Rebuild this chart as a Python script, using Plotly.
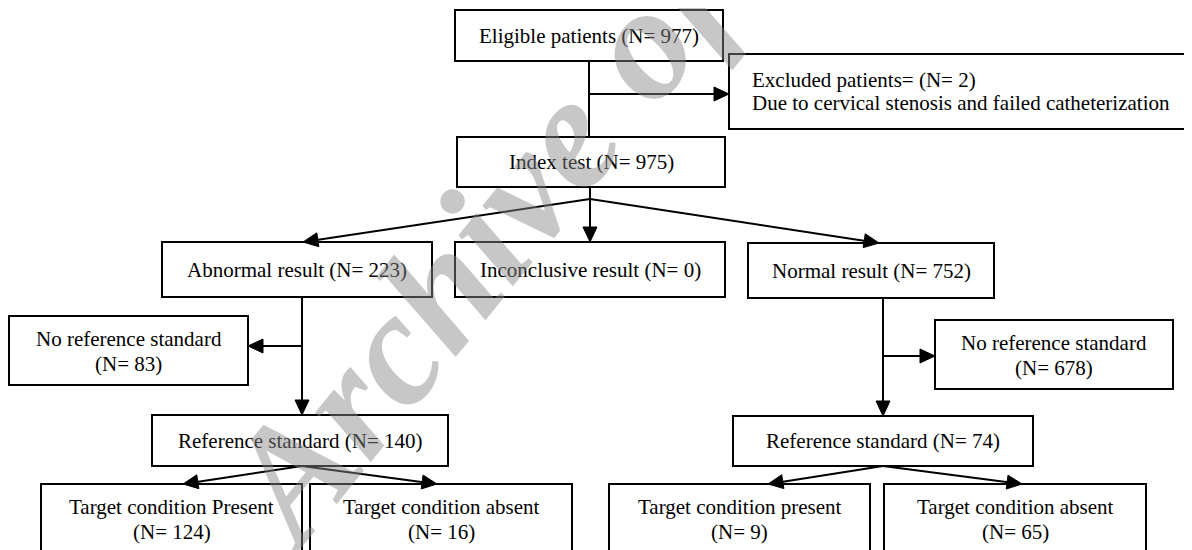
import math
import plotly.graph_objects as go

# ---------------- data ----------------
node_ids = ["eligible", "excluded", "index", "abnormal", "inconclusive", "normal",
            "noref_l", "noref_r", "ref_l", "ref_r", "tcp_l", "tca_l", "tcp_r", "tca_r"]
node_labels = ["Eligible patients", "Excluded patients=", "Index test", "Abnormal result",
               "Inconclusive result", "Normal result", "No reference standard",
               "No reference standard", "Reference standard", "Reference standard",
               "Target condition Present", "Target condition absent",
               "Target condition present", "Target condition absent"]
node_counts = [977, 2, 975, 223, 0, 752, 83, 678, 140, 74, 124, 16, 9, 65]
excluded_reason = "Due to cervical stenosis and failed catheterization"
watermark_text = "Archive of SID"

# ---------------- layout geometry (page pixels) ----------------
boxes = {
    "eligible": (455, 10, 723, 61),
    "excluded": (729, 54, 1205, 129),
    "index": (457, 137, 725, 187),
    "abnormal": (162, 242, 432, 297),
    "inconclusive": (455, 242, 725, 297),
    "normal": (748, 243, 994, 298),
    "noref_l": (9, 316, 248, 385),
    "noref_r": (935, 320, 1173, 389),
    "ref_l": (152, 415, 448, 466),
    "ref_r": (733, 416, 1033, 466),
    "tcp_l": (41, 484, 302, 570),
    "tca_l": (310, 484, 572, 570),
    "tcp_r": (609, 484, 870, 570),
    "tca_r": (884, 484, 1146, 570),
}
two_line = {"noref_l", "noref_r", "tcp_l", "tca_l", "tcp_r", "tca_r"}

# connectors: (x0, y0, x1, y1, arrowhead)
edges = [
    (589, 61, 589, 137, False),
    (589, 94, 729, 94, True),
    (590, 187, 590, 199, False),
    (590, 199, 303, 242, True),
    (590, 199, 590, 242, True),
    (590, 199, 879, 243, True),
    (302, 297, 302, 415, True),
    (302, 346, 248, 346, True),
    (883, 298, 883, 416, True),
    (883, 356, 935, 356, True),
    (302, 466, 183, 484, True),
    (302, 466, 437, 484, True),
    (883, 466, 768, 484, True),
    (883, 466, 1022, 484, True),
]

FONT = "Liberation Serif, Times New Roman, serif"
FS = 21
OFF = 8  # page body margin: the figure starts 8px in from the page corner

shapes = []
annotations = []


def txt(x, y, text, anchor="center"):
    annotations.append(dict(x=x, y=y, xref="x", yref="y", text=text, showarrow=False,
                            xanchor=anchor, yanchor="middle",
                            font=dict(family=FONT, size=FS, color="black")))


for nid, lab, n in zip(node_ids, node_labels, node_counts):
    x0, y0, x1, y1 = boxes[nid]
    shapes.append(dict(type="rect", xref="x", yref="y", x0=x0, y0=y0, x1=x1, y1=y1,
                       line=dict(color="black", width=2), fillcolor="white", layer="above"))
    cx = (x0 + x1) / 2
    if nid == "excluded":
        txt(750, 80, f"{lab} (N= {n})", "left")
        txt(750, 103, excluded_reason, "left")
    elif nid in two_line:
        txt(cx, y0 + 23, lab)
        txt(cx, y0 + 48, f"(N= {n})")
    else:
        txt(cx, (y0 + y1) / 2, f"{lab} (N= {n})")

HL, HW = 15, 7
for x0, y0, x1, y1, head in edges:
    dx, dy = x1 - x0, y1 - y0
    L = math.hypot(dx, dy)
    ux, uy = dx / L, dy / L
    ex, ey = (x1 - ux * HL * 0.8, y1 - uy * HL * 0.8) if head else (x1, y1)
    shapes.append(dict(type="line", xref="x", yref="y", x0=x0, y0=y0, x1=ex, y1=ey,
                       line=dict(color="black", width=2), layer="above"))
    if head:
        bx, by = x1 - ux * HL, y1 - uy * HL
        px, py = -uy * HW, ux * HW
        path = f"M{x1},{y1} L{bx + px},{by + py} L{bx - px},{by - py} Z"
        shapes.append(dict(type="path", xref="x", yref="y", path=path,
                           fillcolor="black", line=dict(color="black", width=1), layer="above"))

# watermark (semi-transparent, on top)
annotations.append(dict(x=572, y=126, xref="x", yref="y", text=f"<i>{watermark_text}</i>",
                        showarrow=False, xanchor="center", yanchor="middle", textangle=-51,
                        font=dict(family=FONT, size=162, color="rgba(137,137,137,0.47)",
                                  weight="bold", style="italic")))

fig = go.Figure()
fig.update_layout(
    width=1192 - OFF, height=550 - OFF,
    margin=dict(l=0, r=0, t=0, b=0),
    paper_bgcolor="white", plot_bgcolor="white",
    xaxis=dict(range=[OFF, 1192], visible=False, fixedrange=True),
    yaxis=dict(range=[550, OFF], visible=False, fixedrange=True),
    shapes=shapes, annotations=annotations, showlegend=False,
)
fig.write_html("out.html")
